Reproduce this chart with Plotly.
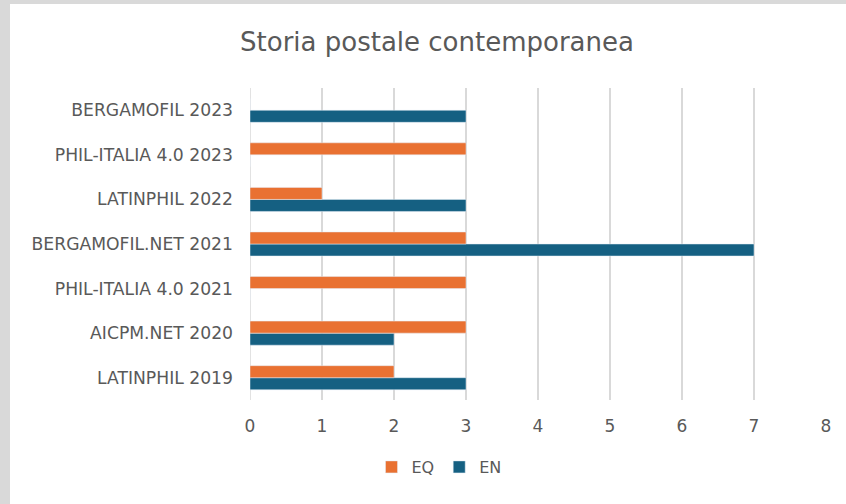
import plotly.graph_objects as go

categories = ["LATINPHIL 2019", "AICPM.NET 2020", "PHIL-ITALIA 4.0 2021", "BERGAMOFIL.NET 2021",
              "LATINPHIL 2022", "PHIL-ITALIA 4.0 2023", "BERGAMOFIL 2023"]
eq_values = [2, 3, 3, 3, 1, 3, 0]
en_values = [3, 2, 0, 7, 3, 0, 3]
x_ticks = [0, 1, 2, 3, 4, 5, 6, 7, 8]

W, H = 846, 504
L, R, T, B = 250, 20, 88, 104
pw, ph = W - L - R, H - T - B

def px_to_paper_x(p):
    return (p - L) / pw

def py_to_paper_y(p):
    return (H - B - p) / ph

txt = "#595959"
font = "DejaVu Sans, sans-serif"

fig = go.Figure()
fig.add_trace(go.Bar(y=categories, x=en_values, name="EN", orientation="h",
                     marker=dict(color="#156082"), legendrank=2))
fig.add_trace(go.Bar(y=categories, x=eq_values, name="EQ", orientation="h",
                     marker=dict(color="#E97132"), legendrank=1))

fig.add_shape(type="rect", xref="paper", yref="paper",
              x0=px_to_paper_x(10), x1=px_to_paper_x(860),
              y0=py_to_paper_y(520), y1=py_to_paper_y(4),
              fillcolor="white", line=dict(width=0), layer="below")

fig.update_layout(
    width=W, height=H,
    margin=dict(l=L, r=R, t=T, b=B, autoexpand=False),
    paper_bgcolor="#d9d9d9",
    plot_bgcolor="white",
    barmode="group",
    bargap=0.46,
    bargroupgap=0,
    title=dict(text="Storia postale contemporanea", x=437 / W, xanchor="center",
               y=1 - 42 / H, yanchor="middle",
               font=dict(family=font, size=26, color=txt)),
    font=dict(family=font, size=16, color=txt),
    legend=dict(orientation="h", x=px_to_paper_x(439), xanchor="center",
                y=py_to_paper_y(467), yanchor="middle", bgcolor="rgba(0,0,0,0)",
                font=dict(size=16, color=txt), itemwidth=30, traceorder="normal"),
    xaxis=dict(range=[0, 8], tickvals=x_ticks, showgrid=True, gridcolor="#d9d9d9",
               gridwidth=1.5, zeroline=False, showline=False, ticks="",
               ticklabelstandoff=14, tickfont=dict(size=17, color=txt)),
    yaxis=dict(categoryorder="array", categoryarray=categories, showgrid=False,
               zeroline=False, showline=False, ticks="", ticklabelstandoff=16,
               tickfont=dict(size=17.2, color=txt)),
)
fig.add_shape(type="line", xref="x", yref="paper", x0=0, x1=0, y0=0, y1=1,
              line=dict(color="#d9d9d9", width=1.5), layer="below")

fig.write_html("out.html", config={"displayModeBar": False},
               post_script="document.body.style.margin='0';document.body.style.padding='0';")
